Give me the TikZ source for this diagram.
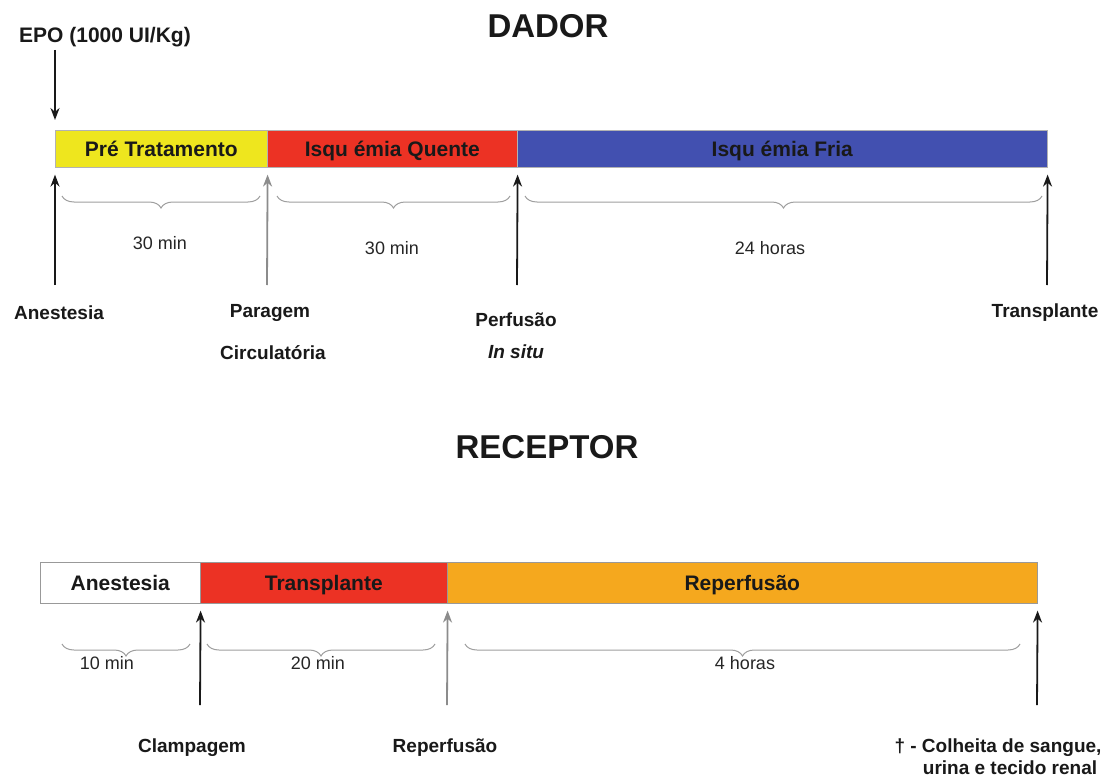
\documentclass[tikz,border=0pt]{standalone}
\usepackage{fontspec}
\setmainfont{Liberation Sans}
\usetikzlibrary{arrows.meta,decorations.pathreplacing,calc}
\definecolor{cyel}{RGB}{238,230,30}
\definecolor{cred}{RGB}{236,50,36}
\definecolor{cblue}{RGB}{66,80,176}
\definecolor{corange}{RGB}{245,168,30}
\begin{document}
\begin{tikzpicture}[x=1pt,y=-1pt,
  bar/.style={draw=gray!60, line width=0.6pt, anchor=north west, inner sep=0pt,
    text height=16pt, text depth=1pt,
    font=\fontsize{21}{24}\selectfont\bfseries, text=black!90},
  arr/.style={-{Stealth[length=12pt,width=9pt]}, line width=1.8pt, draw=black!90},
  arrg/.style={-{Stealth[length=12pt,width=9pt,fill=black!85]}, line width=1.8pt, draw=black!45},
  brc/.style={decorate, decoration={brace,mirror,amplitude=12pt}, draw=gray!75, line width=1pt},
  lbl/.style={font=\fontsize{19}{22}\selectfont\bfseries, text=black!90},
  dur/.style={font=\fontsize{18}{21}\selectfont, text=black!85},
  ttl/.style={font=\fontsize{33}{38}\selectfont\bfseries, text=black!90}]
\useasboundingbox (0,0) rectangle (1107,778);
\fill[white] (0,0) rectangle (1107,778);

% ---------- DADOR ----------
\node[ttl] (dador) at (548,26) {DADOR};
\node[lbl, font=\fontsize{21}{24}\selectfont\bfseries] (epo) at (105,37) {EPO (1000 UI/Kg)};

\node[bar, fill=cyel, minimum width=212pt, minimum height=37pt] (pre) at (55,130) {Pré Tratamento};
\node[bar, fill=cred, minimum width=250pt, minimum height=37pt] (quente) at (267,130) {Isqu émia Quente};
\node[bar, fill=cblue, minimum width=530pt, minimum height=37pt] (fria) at (517,130) {Isqu émia Fria};

\coordinate (epoS) at (55,50);
\coordinate (epoT) at ($(pre.north west)+(0,-10)$);
\draw[arr] (epoS) -- (epoT);

\node[lbl] (anest) at (59,313) {Anestesia};
\node[lbl] (parag) at (270,313) {Paragem};
\node[lbl] (circ) at (273,353) {Circulatória};
\node[lbl] (perf) at (516,320) {Perfusão};
\node[lbl, font=\fontsize{19}{22}\selectfont\bfseries\itshape] (insitu) at (516,352) {In situ};
\node[lbl] (transp) at (1045,313) {Transplante};

\coordinate (d1s) at (55,285);   \coordinate (d1t) at ($(pre.south west)+(0,7)$);
\coordinate (d2s) at (267,285);  \coordinate (d2t) at ($(pre.south east)+(0,7)$);
\coordinate (d3s) at (517,285);  \coordinate (d3t) at ($(quente.south east)+(0,7)$);
\coordinate (d4s) at (1047,285); \coordinate (d4t) at ($(fria.south east)+(0,7)$);
\draw[arr] (d1s) -- (d1t);
\draw[arrg] (d2s) -- (d2t);
\draw[arr] (d3s) -- (d3t);
\draw[arr] (d4s) -- (d4t);

\draw[brc] (62,196) -- (260,196);
\draw[brc] (277,196) -- (510,196);
\draw[brc] (525,196) -- (1042,196);

\node[dur] (t1) at (160,243) {30 min};
\node[dur] (t2) at (392,248) {30 min};
\node[dur] (t3) at (770,248) {24 horas};

% ---------- RECEPTOR ----------
\node[ttl] (receptor) at (547,447) {RECEPTOR};

\node[bar, fill=white, draw=gray!80, minimum width=160pt, minimum height=41pt] (ranest) at (40,562) {Anestesia};
\node[bar, fill=cred, draw=gray!80, minimum width=247pt, minimum height=41pt] (rtrans) at (200,562) {Transplante};
\node[bar, fill=corange, draw=gray!80, minimum width=590pt, minimum height=41pt] (rrep) at (447,562) {Reperfusão};

\coordinate (r1s) at (200,705);  \coordinate (r1t) at ($(ranest.south east)+(0,7)$);
\coordinate (r2s) at (447,705);  \coordinate (r2t) at ($(rtrans.south east)+(0,7)$);
\coordinate (r3s) at (1037,705); \coordinate (r3t) at ($(rrep.south east)+(0,7)$);
\draw[arr] (r1s) -- (r1t);
\draw[arrg] (r2s) -- (r2t);
\draw[arr] (r3s) -- (r3t);

\draw[brc] (62,644) -- (190,644);
\draw[brc] (207,644) -- (435,644);
\draw[brc] (465,644) -- (1020,644);

\node[dur] (t4) at (107,663) {10 min};
\node[dur] (t5) at (318,663) {20 min};
\node[dur] (t6) at (745,663) {4 horas};

\node[lbl] (clamp) at (192,748) {Clampagem};
\node[lbl] (reperf) at (445,748) {Reperfusão};
\node[lbl] (colh1) at (998,748) {† - Colheita de sangue,};
\node[lbl] (colh2) at (1010,768) {urina e tecido renal};
\end{tikzpicture}
\end{document}
